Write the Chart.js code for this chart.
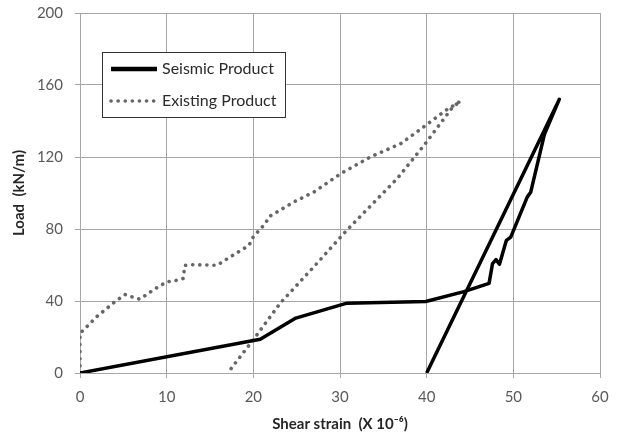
<!DOCTYPE html>
<html>
<head>
<meta charset="utf-8">
<script src="https://cdn.jsdelivr.net/npm/chart.js@4/dist/chart.umd.min.js"></script>
<style>
  html, body { margin: 0; padding: 0; background: #fff; }
  #wrap { width: 619px; height: 437px; }
</style>
</head>
<body>
<div id="wrap"><canvas id="myChart" width="619" height="437"></canvas></div>
<script>
// strain (x 10^-6) and load (kN/m)
var seismicX = [0, 20.8, 24.9, 30.8, 39.9, 44.3, 47.2, 47.6, 48.0, 48.4, 49.2, 49.7, 51.6, 52.0, 53.6, 55.3, 40.0];
var seismicY = [0, 18.8, 30.5, 38.8, 39.7, 45.2, 49.8, 60.8, 63.0, 60.4, 73.7, 75.5, 97.7, 100.4, 132.8, 152, 0];

var existingX = [0, 0, 0.6, 1.9, 3.3, 4.0, 5.2, 6.0, 6.9, 8.7, 10, 11.2, 11.9, 12.1, 13.1, 15.8, 17.3, 19.5, 20, 21.4, 21.8,
  24.7, 27, 30.1, 33.5, 37, 39.9, 42.2, 43.9, 43, 39.7, 36.6, 30.8, 27, 23.1, 20, 17.2];
var existingY = [0, 22, 24.8, 31.2, 36.7, 39.5, 43.6, 42.3, 41, 46.9, 50.6, 51.5, 52.5, 59.8, 60.2, 59.8, 64.4, 70.9, 75.7, 83.1, 86.8,
  95.1, 100.6, 110.8, 120, 127.4, 137.6, 145.9, 151, 147.7, 126.5, 108, 79.4, 59.1, 38.8, 18.5, 1];

var seriesNames = ["Seismic Product", "Existing Product"];
var xTitle = "Shear strain  (X 10\u207B\u2076)";
var yTitle = "Load  (kN/m)";

function toPoints(xs, ys) {
  return xs.map(function (x, i) { return { x: x, y: ys[i] }; });
}

var font = "Lato, 'Noto Sans', sans-serif";
var gridColor = "#a6a6a6";

// legend box drawn inside the plot, like the original
var boxLegend = {
  id: "boxLegend",
  afterDraw: function (chart) {
    var c = chart.ctx;
    var a = chart.chartArea;
    var x0 = a.left + 22, y0 = a.top + 39, w = 183, h = 65;
    c.save();
    c.fillStyle = "#fff";
    c.fillRect(x0, y0, w, h);
    c.strokeStyle = "#333";
    c.lineWidth = 1;
    c.strokeRect(x0 + 0.5, y0 + 0.5, w, h);
    var sets = chart.data.datasets;
    for (var i = 0; i < sets.length; i++) {
      var ly = y0 + 17 + i * 32;
      c.beginPath();
      c.strokeStyle = sets[i].borderColor;
      c.lineWidth = i == 0 ? 4.5 : sets[i].borderWidth;
      c.lineCap = sets[i].borderCapStyle || "butt";
      c.setLineDash(sets[i].borderDash || []);
      c.moveTo(x0 + 9, ly);
      c.lineTo(x0 + 55, ly);
      c.stroke();
      c.setLineDash([]);
      c.fillStyle = "#2b2b2b";
      c.font = "16px " + font;
      c.textBaseline = "middle";
      c.fillText(sets[i].label, x0 + 60, ly);
    }
    c.restore();
  }
};

var ctx = document.getElementById("myChart").getContext("2d");

var graphData = {
  type: "scatter",
  data: {
    datasets: [
      {
        label: seriesNames[0],
        data: toPoints(seismicX, seismicY),
        showLine: true,
        borderColor: "#000",
        borderWidth: 3.5,
        pointRadius: 0,
        borderJoinStyle: "round",
      },
      {
        label: seriesNames[1],
        data: toPoints(existingX, existingY),
        showLine: true,
        borderColor: "#666",
        borderWidth: 3.6,
        borderDash: [0.1, 7],
        borderCapStyle: "round",
        pointRadius: 0,
      },
    ],
  },
  options: {
    responsive: false,
    animation: false,
    layout: { padding: { top: 13, right: 19, left: 0, bottom: 0 } },
    plugins: {
      legend: { display: false },
      tooltip: { enabled: false },
    },
    scales: {
      x: {
        type: "linear",
        min: 0,
        max: 60,
        ticks: { stepSize: 10, color: "#595959", font: { family: font, size: 15 }, padding: 10 },
        grid: { color: gridColor, tickLength: 5 },
        border: { color: gridColor },
        title: { display: true, text: xTitle, color: "#262626", font: { family: font, size: 15, weight: "bold" }, padding: { top: 0 } },
        afterFit: function (s) { s.height = 64; s.paddingLeft = 0; s.paddingRight = 0; },
      },
      y: {
        min: 0,
        max: 200,
        ticks: { stepSize: 40, color: "#595959", font: { family: font, size: 15 }, padding: 12 },
        grid: { color: gridColor, tickLength: 5 },
        border: { color: gridColor },
        title: { display: true, text: yTitle, color: "#262626", font: { family: font, size: 15, weight: "bold" }, padding: { top: 10, bottom: 0 } },
        afterFit: function (s) { s.width = 80; s.paddingTop = 0; s.paddingBottom = 0; },
      },
    },
  },
  plugins: [boxLegend],
};
var myChart = new Chart(ctx, graphData);
</script>
</body>
</html>
